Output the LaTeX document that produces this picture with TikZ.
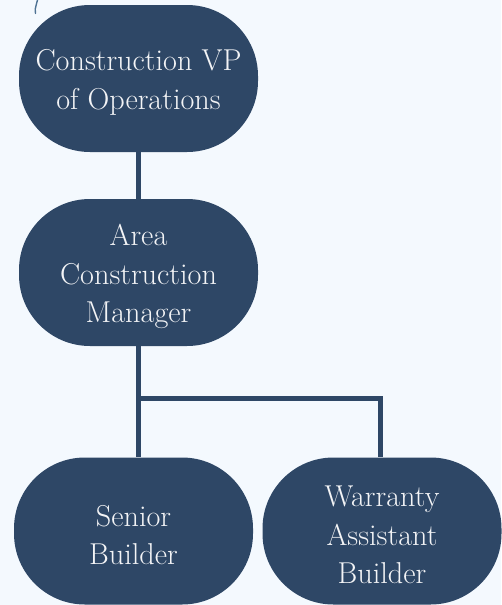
\documentclass[tikz,border=0pt]{standalone}
\usepackage{fontspec}
\setmainfont{Latin Modern Roman}
\usepackage{tikz}
\usetikzlibrary{calc}
\definecolor{navy}{HTML}{2E4766}
\definecolor{paper}{HTML}{F4F9FE}
\definecolor{inkmark}{HTML}{4F7394}
\tikzstyle{role}=[rectangle,rounded corners=71pt,fill=navy,minimum width=239pt,minimum height=147pt,inner sep=0pt]
\tikzstyle{roletext}=[text=white!94!navy,align=center,inner sep=0pt,font=\fontsize{30.2}{38.5}\selectfont]
\tikzstyle{link} = [draw,navy,line width=5pt]

\begin{document}
\begin{tikzpicture}[x=1pt,y=-1pt]
    % page and background
    \useasboundingbox[fill=paper] (0,0) rectangle (501,605);
    \draw[inkmark,line width=1.4pt,line cap=round] (35.5,13.5) .. controls (34.8,10) .. (37.5,0);

    % First we draw the roles
    \foreach \pos/ \name/ \txt in {{(138.5,78.5)/vp/{Construction VP\\of Operations}},
                                 {(138.5,272.5)/acm/{Area\\Construction\\Manager}},
                                 {(133.5,531)/sb/{Senior\\Builder}},
                                 {(382,531)/wab/{Warranty\\Assistant\\Builder}}}
      {
        \node[role] (\name) at \pos {};
        \node[roletext] (\name-txt) at ([yshift=-4pt]\name.center) {\txt};
      }

    % Connect roles
    \coordinate (split) at (138.5,398);
    \path[link] (vp) -- (acm);
    \path[link] (acm.south) -- (acm.south |- sb.north);
    \path[link] (split) -| ([xshift=-2pt]wab.north);

\end{tikzpicture}
\end{document}
